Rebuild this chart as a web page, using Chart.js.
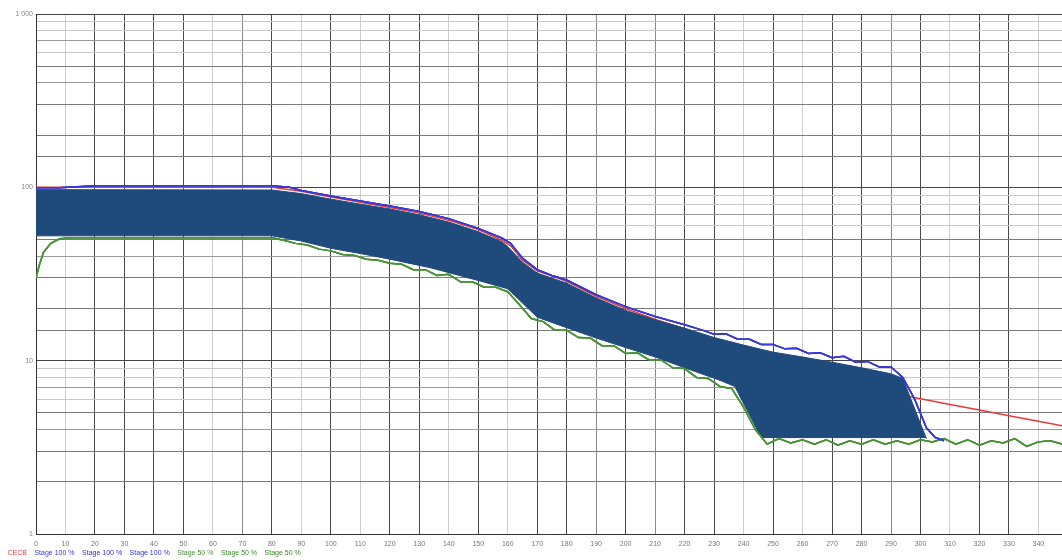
<!DOCTYPE html>
<html>
<head>
<meta charset="utf-8">
<script src="https://cdn.jsdelivr.net/npm/chart.js@4/dist/chart.umd.min.js"></script>
<style>
  html, body { margin: 0; padding: 0; background: #fff; overflow: hidden; }
  #wrap { position: relative; width: 1062px; height: 560px; }
</style>
</head>
<body>
<div id="wrap"><canvas id="chart" width="1062" height="560"></canvas></div>
<script>
// CECB reference curve
const cecbX = [0, 80, 90, 100, 110, 120, 130, 140, 150, 158, 161, 165, 170, 180, 190, 200, 210, 220, 230, 240, 250, 260, 270, 280, 290, 300, 310, 320, 330, 340, 348];
const cecbY = [100, 100, 95, 88, 82, 76.5, 71, 64.5, 57, 49.5, 46, 38, 33, 28.7, 23.5, 20, 17.3, 15.3, 13.2, 11.4, 10, 8.9, 8.0, 7.2, 6.5, 6.03, 5.59, 5.19, 4.81, 4.47, 4.21];

// Stage 100 % (upper runs)
const stage100X = [0, 8, 20, 80, 86, 90, 100, 110, 120, 130, 140, 150, 158, 161, 165, 170, 175, 180, 190, 200, 210, 220, 226, 230, 234, 238, 242, 246, 250, 254, 258, 262, 266, 270, 274, 278, 282, 286, 290, 294, 298, 302, 305, 308];
const stage100Y = [99.5, 99.5, 102, 102, 100, 96, 89, 83.5, 78, 72.5, 66, 58, 51, 47.5, 39, 33.5, 31, 29.2, 24, 20.5, 18, 16.1, 15.0, 14.2, 14.3, 13.3, 13.3, 12.4, 12.4, 11.7, 11.8, 11.0, 11.1, 10.4, 10.6, 9.8, 9.9, 9.2, 9.2, 8.0, 6.0, 4.1, 3.6, 3.45];

// Stage 50 % (lower runs)
const stage50X = [0, 1, 2.5, 5, 8, 12, 80, 84, 88, 92, 96, 100, 104, 108, 112, 116, 120, 124, 128, 132, 136, 140, 144, 148, 152, 156, 160, 164, 168, 172, 176, 180, 184, 188, 192, 196, 200, 204, 208, 212, 216, 220, 224, 228, 232, 236, 240, 244, 248, 252, 256, 260, 264, 268, 272, 276, 280, 284, 288, 292, 296, 300, 304, 308, 312, 316, 320, 324, 328, 332, 336, 340, 344, 348];
const stage50Y = [30, 35, 42, 47.5, 50.5, 51.2, 51.2, 49.5, 47.5, 46.5, 44, 43, 41, 40.5, 38.5, 38, 36.5, 36, 33.5, 33.5, 31, 31.5, 28.5, 28.5, 26.5, 26.5, 25, 21, 17.5, 16.8, 15, 15, 13.6, 13.5, 12.2, 12.2, 11, 11.1, 10.1, 10.1, 9.1, 9.0, 8.0, 7.9, 7.1, 6.9, 5.4, 4.0, 3.3, 3.55, 3.35, 3.5, 3.3, 3.5, 3.25, 3.45, 3.3, 3.5, 3.3, 3.45, 3.3, 3.5, 3.4, 3.55, 3.3, 3.5, 3.25, 3.45, 3.35, 3.55, 3.2, 3.4, 3.45, 3.3];

// envelope of all runs (filled band)
const bandTopX = [0, 80, 90, 100, 110, 120, 130, 140, 150, 158, 160, 165, 170, 180, 190, 200, 210, 220, 230, 240, 250, 260, 270, 280, 290, 294, 302];
const bandTopY = [97, 96.5, 92, 85.5, 80, 75, 69.5, 63, 55.5, 48.5, 45.5, 37, 32, 28, 23, 19.5, 17.2, 15.4, 13.6, 12.3, 11.2, 10.5, 9.8, 9.1, 8.4, 7.9, 3.55];
const bandBottomX = [0, 80, 90, 100, 110, 120, 134, 150, 160, 165, 170, 180, 190, 200, 210, 220, 232, 237, 246, 302];
const bandBottomY = [52.5, 52.5, 49, 44.5, 41.5, 38.5, 34.3, 29, 26, 21.5, 17.8, 15.5, 13.5, 11.9, 10.5, 9.1, 7.7, 7.1, 3.6, 3.6];

const yLabels = { 1: '1', 10: '10', 100: '100', 1000: '1 000' };
const darkX = [20, 30, 40, 50, 80, 100, 120, 130, 150, 170, 180, 200, 220, 230, 250, 270, 280, 300, 320, 330];
const midX = [70, 190, 210, 290];

const pts = (xs, ys) => xs.map((x, i) => ({ x: x, y: ys[i] }));

const line = (label, xs, ys, color, order) => ({
   label: label,
   data: pts(xs, ys),
   borderColor: color,
   backgroundColor: color,
   borderWidth: 1.5,
   pointRadius: 0,
   fill: false,
   order: order,
});

const ctx = document.getElementById('chart').getContext('2d');
new Chart(ctx, {
   type: 'line',
   data: {
      datasets: [
         line('CECB', cecbX, cecbY, '#e83a3a', 3),
         line('Stage 100 %', stage100X, stage100Y, '#3a3ad8', 1),
         line('Stage 100 %', stage100X, stage100Y, '#2f2fc8', 1),
         line('Stage 100 %', stage100X, stage100Y, '#3434d0', 1),
         line('Stage 50 %', stage50X, stage50Y, '#4a9438', 1),
         line('Stage 50 %', stage50X, stage50Y, '#3f8a30', 1),
         line('Stage 50 %', stage50X, stage50Y, '#3a822c', 1),
         {
            label: 'band',
            data: pts(bandTopX, bandTopY),
            borderColor: '#1f4a7c',
            backgroundColor: '#1f4a7c',
            borderWidth: 1,
            pointRadius: 0,
            fill: '+1',
            order: 2,
         },
         {
            label: 'band',
            data: pts(bandBottomX, bandBottomY),
            borderColor: '#1f4a7c',
            borderWidth: 1,
            pointRadius: 0,
            fill: false,
            order: 2,
         },
      ],
   },
   options: {
      responsive: false,
      animation: false,
      layout: { padding: { top: 14, right: 0, left: 0, bottom: -7 } },
      plugins: {
         tooltip: { enabled: false },
         legend: {
            position: 'bottom',
            align: 'start',
            labels: {
               boxWidth: 0,
               boxHeight: 0,
               padding: 4,
               font: { family: 'Liberation Sans', size: 7 },
               filter: (item) => item.text !== 'band',
               generateLabels: (chart) => chart.data.datasets.map((ds, i) => ({
                  text: ds.label,
                  fontColor: ds.borderColor,
                  fillStyle: 'rgba(0,0,0,0)',
                  strokeStyle: 'rgba(0,0,0,0)',
                  lineWidth: 0,
                  hidden: false,
                  datasetIndex: i,
               })),
            },
         },
      },
      scales: {
         x: {
            type: 'linear',
            min: 0,
            max: 348,
            afterBuildTicks: (s) => { s.ticks = s.ticks.filter(t => t.value % 10 === 0); },
            afterFit: (s) => { s.height = 12; },
            ticks: {
               stepSize: 10,
               autoSkip: false,
               maxRotation: 0,
               padding: 6,
               color: '#777',
               font: { family: 'Liberation Sans', size: 7 },
            },
            grid: {
               drawTicks: false,
               color: (c) => {
                  const v = c.tick ? c.tick.value : 0;
                  if (darkX.includes(v)) return '#4a4a4a';
                  if (midX.includes(v)) return '#8a8a8a';
                  return '#cfcfcf';
               },
            },
            border: { color: '#333', width: 1 },
         },
         y: {
            type: 'logarithmic',
            min: 1,
            max: 1000,
            afterFit: (s) => { s.width = 36; },
            ticks: {
               autoSkip: false,
               padding: 3,
               color: '#888',
               font: { family: 'Liberation Sans', size: 7 },
               callback: (v) => yLabels[v] || '',
            },
            grid: {
               drawTicks: false,
               color: (c) => {
                  const v = c.tick ? c.tick.value : 0;
                  if (yLabels[v]) return '#444';
                  const d = Math.round(v / Math.pow(10, Math.floor(Math.log10(v) + 1e-9)));
                  if (d === 2 || d === 3 || d === 5) return '#7a7a7a';
                  if (d === 4 || d === 7) return '#9a9a9a';
                  return '#c8c8c8';
               },
            },
            border: { color: '#333', width: 1 },
         },
      },
   },
});
</script>
</body>
</html>
